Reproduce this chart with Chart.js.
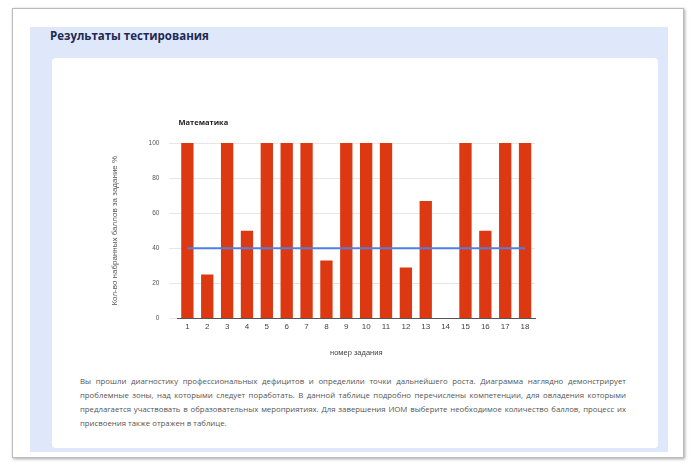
<!DOCTYPE html>
<html lang="ru">
<head>
<meta charset="utf-8">
<script src="https://cdn.jsdelivr.net/npm/chart.js@4/dist/chart.umd.min.js"></script>
<style>
	html, body { margin: 0; padding: 0; width: 696px; height: 464px; background: #fff; overflow: hidden; font-family: "Open Sans", "DejaVu Sans", sans-serif; }
	#frame { position: absolute; left: 12px; top: 8px; width: 670px; height: 448px; border: 1px solid #bbb; box-shadow: 1px 1px 3px rgba(0,0,0,0.35); background: #fff; }
	#panel { position: absolute; left: 30px; top: 27px; width: 638px; height: 425px; background: #dfe8fb; }
	#panel h2 { position: absolute; left: 20px; top: 0px; margin: 0; font-size: 11.5px; font-weight: bold; color: #1d2a55; line-height: 18px; }
	#card { position: absolute; left: 22px; top: 31px; width: 606px; height: 390px; background: #fff; border-radius: 4px; }
	#chart-box { position: absolute; left: 48px; top: 53px; width: 470px; height: 260px; }
	#note { position: absolute; left: 28px; top: 316px; width: 546px; margin: 0; font-size: 7.8px; line-height: 14px; color: #555; text-align: justify; }
</style>
</head>
<body>
<div id="frame"></div>
<div id="panel">
	<h2>Результаты тестирования</h2>
	<div id="card">
		<div id="chart-box"><canvas id="chart"></canvas></div>
		<p id="note">Вы прошли диагностику профессиональных дефицитов и определили точки дальнейшего роста. Диаграмма наглядно демонстрирует проблемные зоны, над которыми следует поработать. В данной таблице подробно перечислены компетенции, для овладения которыми предлагается участвовать в образовательных мероприятиях. Для завершения ИОМ выберите необходимое количество баллов, процесс их присвоения также отражен в таблице.</p>
	</div>
</div>
<script>
// номера заданий
const tasks = ["1","2","3","4","5","6","7","8","9","10","11","12","13","14","15","16","17","18"];
// процент набранных баллов по каждому заданию
const scores = [100, 25, 100, 50, 100, 100, 100, 33, 100, 100, 100, 29, 67, 0, 100, 50, 100, 100];
// пороговое значение
const threshold = [40, 40, 40, 40, 40, 40, 40, 40, 40, 40, 40, 40, 40, 40, 40, 40, 40, 40];
const yTicks = [0, 20, 40, 60, 80, 100];

const chartTitle = "Математика";

// заголовок рисуем от левого края области графика
const leftTitle = {
	id: "leftTitle",
	afterDraw(chart) {
		const { ctx, chartArea } = chart;
		ctx.save();
		ctx.font = "bold 7.5px 'Open Sans', sans-serif";
		ctx.fillStyle = "#222";
		ctx.textBaseline = "middle";
		ctx.fillText(chartTitle, chartArea.left + 1, chartArea.top - 20);
		ctx.restore();
	},
};

new Chart(document.getElementById("chart"), {
	type: "bar",
	data: {
		labels: tasks,
		datasets: [
			{
				type: "line",
				data: threshold,
				borderColor: "#4f7fe3",
				borderWidth: 2,
				pointRadius: 0,
				order: 0,
			},
			{
				data: scores,
				backgroundColor: "#dc3912",
				barPercentage: 0.62,
				categoryPercentage: 1,
				order: 1,
			},
		],
	},
	options: {
		responsive: true,
		maintainAspectRatio: false,
		animation: false,
		layout: { padding: { top: 32, right: 35, left: 6, bottom: 10 } },
		plugins: {
			legend: { display: false },
			tooltip: { enabled: false },
		},
		scales: {
			x: {
				grid: { display: false, drawTicks: false },
				border: { color: "#555" },
				ticks: { color: "#444", font: { size: 8 }, padding: 4 },
				title: {
					display: true,
					text: "номер задания",
					color: "#444",
					font: { size: 7.5 },
					padding: { top: 12 },
				},
			},
			y: {
				min: 0,
				max: 100,
				afterBuildTicks: (axis) => {
					axis.ticks = yTicks.map((v) => ({ value: v }));
				},
				grid: { color: "#e6e6e6" },
				border: { display: false },
				ticks: { color: "#555", font: { size: 6.5 }, padding: 10 },
				title: {
					display: true,
					text: "Кол-во набранных баллов за задание %",
					color: "#555",
					font: { size: 8 },
					padding: { bottom: 19 },
				},
			},
		},
	},
	plugins: [leftTitle],
});
</script>
</body>
</html>
